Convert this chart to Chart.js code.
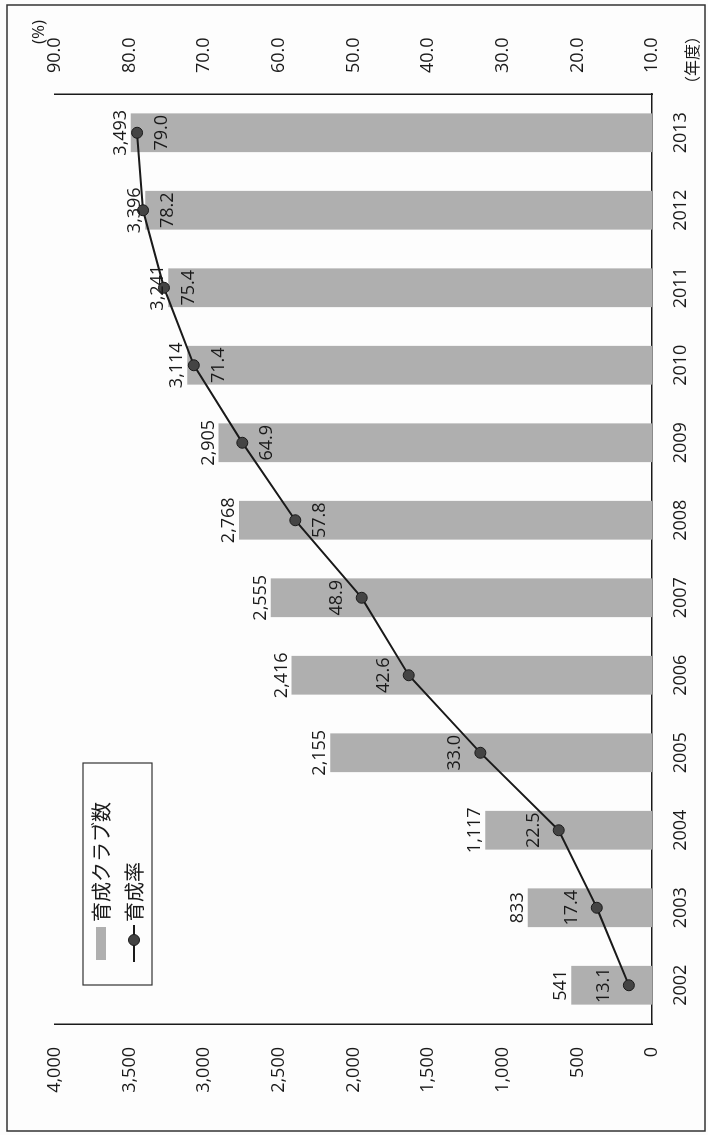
<!DOCTYPE html>
<html>
<head>
<meta charset="utf-8">
<script src="https://cdn.jsdelivr.net/npm/chart.js@4/dist/chart.umd.min.js"></script>
<style>
  html, body { margin: 0; padding: 0; background: #fdfdfd; }
  #page { position: relative; width: 708px; height: 1135px; overflow: hidden; }
  /* the chart is drawn upright, then turned a quarter to the left like the scan */
  #turn {
    position: absolute; left: 0; top: 0; width: 1135px; height: 708px;
    transform-origin: 0 0;
    transform: translate(0, 1135px) rotate(-90deg);
  }
</style>
</head>
<body>
<div id="page">
  <div id="turn"><canvas id="c" width="1135" height="708"></canvas></div>
</div>
<script>
const years = ['2002', '2003', '2004', '2005', '2006', '2007', '2008', '2009', '2010', '2011', '2012', '2013'];
const clubCounts = [541, 833, 1117, 2155, 2416, 2555, 2768, 2905, 3114, 3241, 3396, 3493];
const clubRates = [13.1, 17.4, 22.5, 33.0, 42.6, 48.9, 57.8, 64.9, 71.4, 75.4, 78.2, 79.0];
// which rate labels sit under the point instead of over it
const rateLabelBelow = [false, false, false, false, false, false, true, true, true, true, true, true];

const countLabel = '育成クラブ数';
const rateLabel = '育成率';
const countTicks = { min: 0, max: 4000, step: 500 };
const rateTicks = { min: 10, max: 90, step: 10 };

const NUM_FONT = '"Open Sans", "Noto Sans", sans-serif';
const JP_FONT = '"Noto Sans CJK JP", "Noto Sans", sans-serif';
const BAR_COLOR = 'rgb(175, 175, 175)';
const INK = '#1a1a1a';

const fmtCount = v => Number(v).toLocaleString('en-US');

// frame, legend, value labels and the two unit captions
const extras = {
    id: 'extras',
    beforeDraw(chart) {
        const ctx = chart.ctx;
        ctx.save();
        ctx.fillStyle = '#fdfdfd';
        ctx.fillRect(0, 0, chart.width, chart.height);
        ctx.strokeStyle = '#333';
        ctx.lineWidth = 1.5;
        ctx.strokeRect(4, 7, 1126, 698);
        ctx.restore();
    },
    afterDatasetsDraw(chart) {
        const ctx = chart.ctx;
        const area = chart.chartArea;
        ctx.save();
        ctx.fillStyle = INK;
        ctx.font = '18px ' + NUM_FONT;
        ctx.textAlign = 'center';

        // bar values just past the end of each bar
        const barMeta = chart.getDatasetMeta(1);
        barMeta.data.forEach((bar, i) => {
            ctx.textBaseline = 'bottom';
            ctx.fillText(fmtCount(clubCounts[i]), bar.x, bar.y - 1);
        });

        // rate values over or under each point
        const lineMeta = chart.getDatasetMeta(0);
        lineMeta.data.forEach((pt, i) => {
            ctx.textBaseline = 'middle';
            const dy = rateLabelBelow[i] ? 25 : -25;
            ctx.fillText(clubRates[i].toFixed(1), pt.x, pt.y + dy);
        });

        // unit captions
        ctx.font = '17px ' + NUM_FONT;
        ctx.textBaseline = 'middle';
        ctx.fillText('(%)', 1103, 39);
        ctx.font = '16px ' + JP_FONT;
        ctx.fillText('（年度）', 1075, 692);

        // legend box
        const lx = area.left + 39, ly = 83, lw = 222, lh = 69;
        ctx.fillStyle = '#fdfdfd';
        ctx.fillRect(lx, ly, lw, lh);
        ctx.strokeStyle = '#333';
        ctx.lineWidth = 1.2;
        ctx.strokeRect(lx, ly, lw, lh);

        ctx.fillStyle = BAR_COLOR;
        ctx.fillRect(lx + 25, ly + 13, 33, 10);
        ctx.strokeStyle = INK;
        ctx.lineWidth = 2;
        ctx.beginPath();
        ctx.moveTo(lx + 23, ly + 51);
        ctx.lineTo(lx + 60, ly + 51);
        ctx.stroke();
        ctx.beginPath();
        ctx.arc(lx + 45, ly + 51, 5.5, 0, Math.PI * 2);
        ctx.fillStyle = '#444';
        ctx.fill();
        ctx.lineWidth = 1;
        ctx.stroke();

        ctx.fillStyle = INK;
        ctx.font = '20px ' + JP_FONT;
        ctx.textAlign = 'left';
        ctx.textBaseline = 'middle';
        ctx.fillText(countLabel, lx + 63, ly + 18);
        ctx.fillText(rateLabel, lx + 63, ly + 51);
        ctx.restore();
    }
};

const axisBorder = { display: true, color: INK, width: 1.5 };

new Chart(document.getElementById('c'), {
    data: {
        labels: years,
        datasets: [
            {
                type: 'line',
                label: rateLabel,
                data: clubRates,
                yAxisID: 'y1',
                borderColor: INK,
                borderWidth: 2,
                tension: 0,
                pointRadius: 5.5,
                pointBackgroundColor: '#444',
                pointBorderColor: INK,
                pointBorderWidth: 1,
                order: 1
            },
            {
                type: 'bar',
                label: countLabel,
                data: clubCounts,
                yAxisID: 'y',
                backgroundColor: BAR_COLOR,
                borderWidth: 0,
                barPercentage: 0.5,
                categoryPercentage: 1,
                order: 2
            }
        ]
    },
    options: {
        responsive: false,
        animation: false,
        layout: { padding: { top: 55, left: 0, right: 0, bottom: 0 } },
        plugins: {
            legend: { display: false },
            tooltip: { enabled: false }
        },
        scales: {
            x: {
                grid: { display: false, drawTicks: false },
                border: axisBorder,
                ticks: { color: INK, font: { family: NUM_FONT, size: 18 }, padding: 18, maxRotation: 0, minRotation: 0 },
                afterFit(s) { s.height = 56; }
            },
            y: {
                position: 'left',
                min: countTicks.min,
                max: countTicks.max,
                grid: { display: false, drawTicks: false },
                border: axisBorder,
                ticks: {
                    stepSize: countTicks.step,
                    color: INK,
                    font: { family: NUM_FONT, size: 18 },
                    padding: 23,
                    callback: v => fmtCount(v)
                },
                afterFit(s) { s.width = 111; }
            },
            y1: {
                position: 'right',
                min: rateTicks.min,
                max: rateTicks.max,
                grid: { display: false, drawTicks: false },
                border: axisBorder,
                ticks: {
                    stepSize: rateTicks.step,
                    color: INK,
                    font: { family: NUM_FONT, size: 18 },
                    padding: 21,
                    callback: v => Number(v).toFixed(1)
                },
                afterFit(s) { s.width = 94; }
            }
        }
    },
    plugins: [extras]
});
</script>
</body>
</html>
